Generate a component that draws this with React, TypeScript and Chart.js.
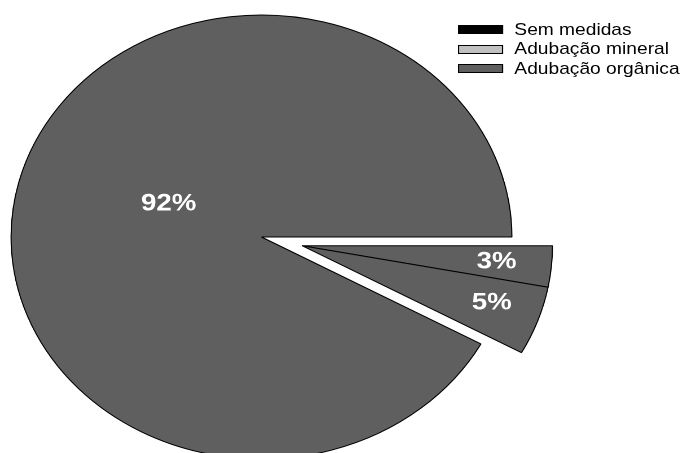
import React, { useEffect, useRef } from "react";
import { Chart, registerables } from "chart.js";

Chart.register(...registerables);

const categories = ["Sem medidas", "Adubação mineral", "Adubação orgânica"];
const values = [3, 5, 92];
const legendColors = ["#000000", "#c0c0c0", "#5f5f5f"];
const sliceColor = "#5f5f5f";

// visual tuning (styles, not data)
const STRETCH = 1.128;
const BASE_W = 608;
const BASE_H = 453;
const EXPLODE = [true, true, false];
const EXPLODE_DX = 36;
const EXPLODE_DY = 8.7;
const LABEL_FRAC = [0.78, 0.8, 0.4];
const LABEL_ANGLE_ADJ = [0, -1, 7.6];

const explodePlugin = {
  id: "explodeGroup",
  afterDatasetsUpdate(chart: any) {
    const meta = chart.getDatasetMeta(0);
    meta.data.forEach((el: any, i: number) => {
      if (EXPLODE[i]) {
        el.x += EXPLODE_DX;
        el.y += EXPLODE_DY;
      }
    });
  },
};

const labelPlugin = {
  id: "pctLabels",
  afterDatasetsDraw(chart: any) {
    const ctx = chart.ctx;
    const meta = chart.getDatasetMeta(0);
    const total = values.reduce((a, b) => a + b, 0);
    ctx.save();
    ctx.fillStyle = "#ffffff";
    ctx.font = "bold 24.5px 'Liberation Sans', Arial, sans-serif";
    ctx.textAlign = "center";
    ctx.textBaseline = "middle";
    meta.data.forEach((el: any, i: number) => {
      const { x, y, startAngle, endAngle, outerRadius } = el.getProps(
        ["x", "y", "startAngle", "endAngle", "outerRadius"],
        true
      );
      const mid = (startAngle + endAngle) / 2 + (LABEL_ANGLE_ADJ[i] * Math.PI) / 180;
      const r = outerRadius * LABEL_FRAC[i];
      const pct = Math.round((values[i] / total) * 100);
      ctx.fillText(pct + "%", x + Math.cos(mid) * r, y + Math.sin(mid) * r);
    });
    ctx.restore();
  },
};

export default function App() {
  const ref = useRef<HTMLCanvasElement | null>(null);

  useEffect(() => {
    if (!ref.current) return;
    const chart = new Chart(ref.current, {
      type: "pie",
      data: {
        labels: categories,
        datasets: [
          {
            data: values,
            backgroundColor: values.map(() => sliceColor),
            borderColor: "#000000",
            borderWidth: 1,
            clip: false as any,
          } as any,
        ],
      },
      options: {
        animation: false,
        responsive: true,
        maintainAspectRatio: false,
        devicePixelRatio: 2,
        events: [],
        rotation: 90,
        radius: 222,
        layout: { padding: { left: 0, right: 144.4, top: 21, bottom: 0 } },
        plugins: {
          legend: { display: false },
          tooltip: { enabled: false },
        },
      } as any,
      plugins: [explodePlugin, labelPlugin],
    });
    return () => chart.destroy();
  }, []);

  return (
    <div
      style={{
        position: "fixed",
        left: 0,
        top: 0,
        width: BASE_W,
        height: BASE_H,
        transform: `scaleX(${STRETCH})`,
        transformOrigin: "0 0",
        background: "#ffffff",
      }}
    >
      <canvas ref={ref} />
      <div
        style={{
          position: "absolute",
          left: 406,
          top: 19.75,
          fontFamily: "'Liberation Sans', Arial, sans-serif",
          fontSize: 17,
          color: "#000",
        }}
      >
        {categories.map((c, i) => (
          <div
            key={c}
            style={{ display: "flex", alignItems: "center", height: 19.5, whiteSpace: "nowrap" }}
          >
            <div
              style={{
                width: 40,
                height: 9,
                boxSizing: "border-box",
                background: legendColors[i],
                border: "1px solid #000",
                marginRight: 10,
              }}
            />
            <span>{c}</span>
          </div>
        ))}
      </div>
    </div>
  );
}
